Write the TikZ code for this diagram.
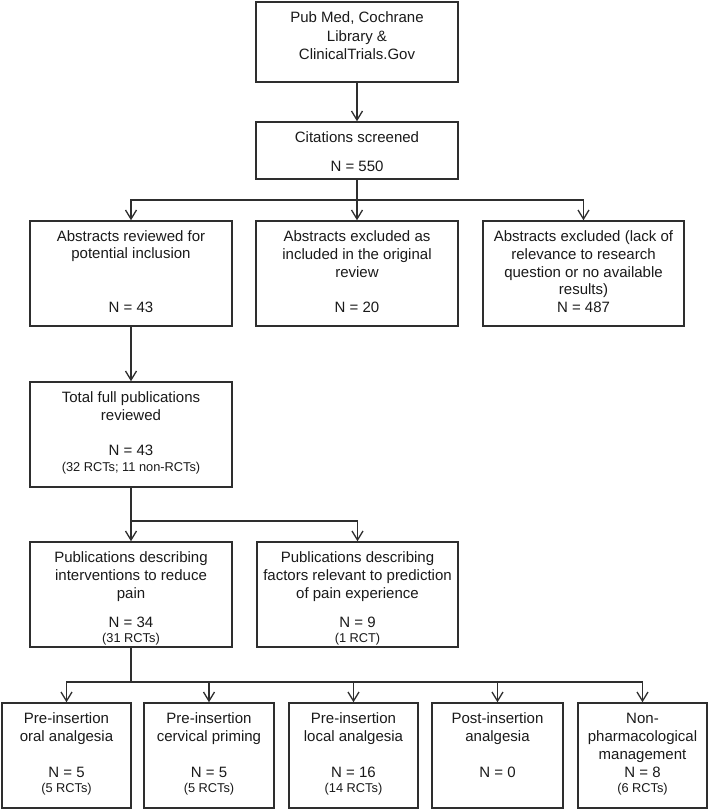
\documentclass[tikz,border=0pt]{standalone}
\usepackage{fontspec}
\setmainfont{Liberation Sans}
\usetikzlibrary{arrows.meta}
\definecolor{linec}{HTML}{2E2E2E}
\definecolor{textc}{HTML}{1A1A1A}
\begin{document}
\begin{tikzpicture}[x=1pt,y=-1pt,
  box/.style={draw=linec, line width=1.5pt, inner sep=0pt, minimum height=105pt},
  conn/.style={draw=linec, line width=1.4pt},
  arr/.style={conn, -{Straight Barb[length=9pt,width=11pt,line width=1.3pt]}},
  big/.style={font=\fontsize{15}{18}\selectfont, text=textc, inner sep=0pt, anchor=base},
  small/.style={font=\fontsize{12.8}{15}\selectfont, text=textc, inner sep=0pt, anchor=base}]
\useasboundingbox (0,0) rectangle (709,809);
\fill[white] (0,0) rectangle (709,809);

% boxes
\node[box, minimum width=202pt, minimum height=80pt] (src) at (357,42) {};
\node[box, minimum width=202pt, minimum height=57pt] (cit) at (357,150.5) {};
\node[box, minimum width=202pt] (absrev) at (131,273.5) {};
\node[box, minimum width=202pt] (absorig) at (357,273.5) {};
\node[box, minimum width=201pt] (absexc) at (583.5,273.5) {};
\node[box, minimum width=202pt] (full) at (131,434.5) {};
\node[box, minimum width=202pt] (interv) at (131,594.5) {};
\node[box, minimum width=201pt] (factors) at (357.5,594.5) {};
\node[box, minimum width=129pt] (oral) at (66.5,755.5) {};
\node[box, minimum width=130pt] (cerv) at (209,755.5) {};
\node[box, minimum width=129pt] (local) at (353.5,755.5) {};
\node[box, minimum width=131pt] (post) at (497.5,755.5) {};
\node[box, minimum width=129pt] (nonph) at (642.5,755.5) {};

% junctions
\coordinate (j1) at (357,200);
\coordinate (j2) at (131,521);
\coordinate (j3) at (131,682);

% connectors
\draw[arr] (src.south) -- (cit.north);
\draw[arr] (cit.south) -- (absorig.north);
\draw[arr] (j1) -| (absrev.north);
\draw[arr] (j1) -| (absexc.north);
\draw[arr] (absrev.south) -- (full.north);
\draw[arr] (full.south) -- (interv.north);
\draw[arr] (j2) -| (factors.north);
\draw[conn] (interv.south) -- (j3);
\draw[arr] (j3) -| (oral.north);
\draw[arr] (j3) -| (cerv.north);
\draw[arr] (j3) -| (local.north);
\draw[arr] (j3) -| (post.north);
\draw[arr] (j3) -| (nonph.north);

% texts
\node[big] (t1a) at (357,22) {Pub Med, Cochrane};
\node[big] (t1b) at (357,41) {Library \&};
\node[big] (t1c) at (357,59) {ClinicalTrials.Gov};

\node[big] (t2a) at (357,142) {Citations screened};
\node[big] (t2b) at (357,171) {N = 550};

\node[big] (t3a) at (131,241) {Abstracts reviewed for};
\node[big] (t3b) at (131,258.5) {potential inclusion};
\node[big] (t3c) at (131,312) {N = 43};

\node[big] (t4a) at (357,241) {Abstracts excluded as};
\node[big] (t4b) at (357,259) {included in the original};
\node[big] (t4c) at (357,277) {review};
\node[big] (t4d) at (357,312) {N = 20};

\node[big] (t5a) at (583.5,241.5) {Abstracts excluded (lack of};
\node[big] (t5b) at (583.5,259) {relevance to research};
\node[big] (t5c) at (583.5,277) {question or no available};
\node[big] (t5d) at (583.5,294.5) {results)};
\node[big] (t5e) at (583.5,312) {N = 487};

\node[big] (t6a) at (131,402) {Total full publications};
\node[big] (t6b) at (131,420) {reviewed};
\node[big] (t6c) at (131,455) {N = 43};
\node[small] (t6d) at (131,471.5) {(32 RCTs; 11 non-RCTs)};

\node[big] (t7a) at (131,562.5) {Publications describing};
\node[big] (t7b) at (131,580.5) {interventions to reduce};
\node[big] (t7c) at (131,598) {pain};
\node[big] (t7d) at (131,627) {N = 34};
\node[small] (t7e) at (131,642.5) {(31 RCTs)};

\node[big] (t8a) at (357.5,562.5) {Publications describing};
\node[big] (t8b) at (357.5,580.5) {factors relevant to prediction};
\node[big] (t8c) at (357.5,598) {of pain experience};
\node[big] (t8d) at (357.5,627) {N = 9};
\node[small] (t8e) at (357.5,642.5) {(1 RCT)};

\node[big] (t9a) at (66.5,723) {Pre-insertion};
\node[big] (t9b) at (66.5,741.5) {oral analgesia};
\node[big] (t9c) at (66.5,777) {N = 5};
\node[small] (t9d) at (66.5,792.5) {(5 RCTs)};

\node[big] (t10a) at (209,723) {Pre-insertion};
\node[big] (t10b) at (209,741.5) {cervical priming};
\node[big] (t10c) at (209,777) {N = 5};
\node[small] (t10d) at (209,792.5) {(5 RCTs)};

\node[big] (t11a) at (353.5,723) {Pre-insertion};
\node[big] (t11b) at (353.5,741.5) {local analgesia};
\node[big] (t11c) at (353.5,777) {N = 16};
\node[small] (t11d) at (353.5,792.5) {(14 RCTs)};

\node[big] (t12a) at (497.5,723) {Post-insertion};
\node[big] (t12b) at (497.5,741.5) {analgesia};
\node[big] (t12c) at (497.5,777) {N = 0};

\node[big] (t13a) at (642.5,723) {Non-};
\node[big] (t13b) at (642.5,741) {pharmacological};
\node[big] (t13c) at (642.5,759) {management};
\node[big] (t13d) at (642.5,777) {N = 8};
\node[small] (t13e) at (642.5,792.5) {(6 RCTs)};
\end{tikzpicture}
\end{document}
